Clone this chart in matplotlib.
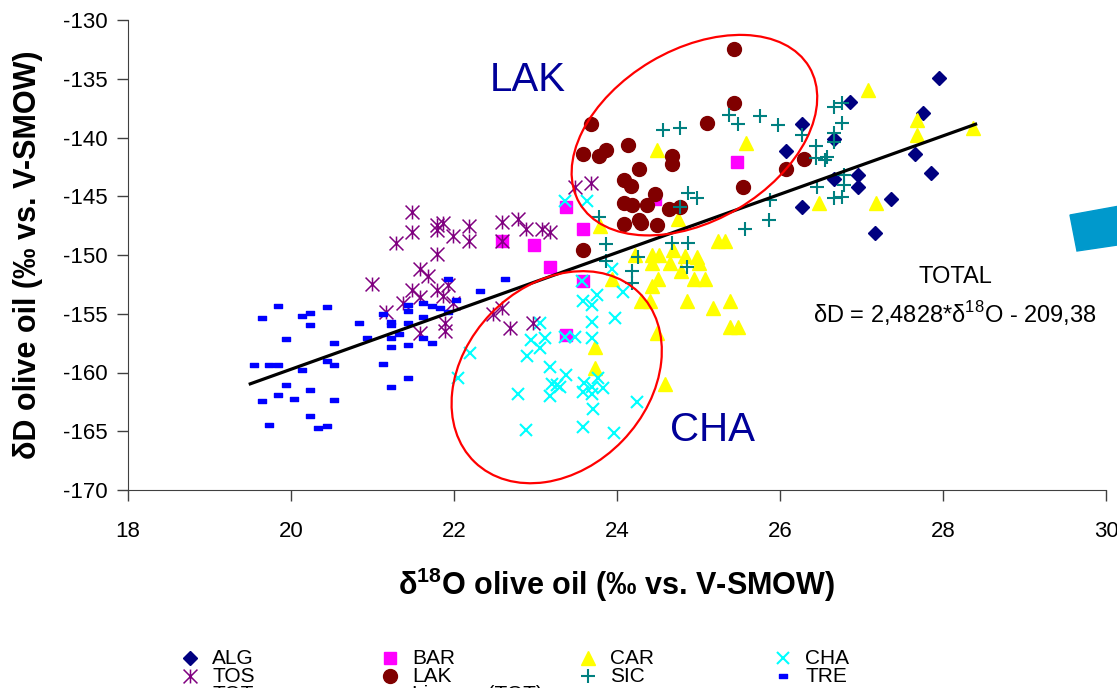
import matplotlib
matplotlib.use("Agg")
import matplotlib.pyplot as plt
from matplotlib.lines import Line2D
from matplotlib.patches import Ellipse, Polygon
from matplotlib.path import Path
from matplotlib.transforms import IdentityTransform, ScaledTranslation
import numpy as np

plt.rcParams.update({"font.family": ["Liberation Sans", "DejaVu Sans"], "mathtext.fontset": "custom",
                     "mathtext.rm": "Liberation Sans", "mathtext.bf": "Liberation Sans:bold",
                     "axes.unicode_minus": False})

# ---- data: d18O (x) vs dD (y) of olive oils by region ----
alg_x = [27.95, 26.86, 27.76, 26.27, 26.66, 26.07, 27.66, 27.85, 26.96, 26.66, 26.96, 27.36, 26.27, 27.16]
alg_y = [-134.9, -137.0, -137.9, -138.85, -140.15, -141.15, -141.4, -143.0, -143.2, -143.55, -144.25, -145.25,
         -145.9, -148.15]
bar_x = [22.59, 22.98, 23.18, 23.38, 23.58, 23.58, 23.38, 25.47, 24.47]
bar_y = [-148.85, -149.15, -151.05, -145.9, -147.75, -152.25, -156.85, -142.1, -145.25]
car_x = [27.08, 27.68, 27.68, 28.37, 26.48, 27.18, 25.58, 24.49, 24.75, 23.79, 25.24, 25.33, 24.22, 24.43, 24.51,
         24.69, 24.83, 24.43, 24.65, 25.0, 24.79, 24.94, 25.08, 24.5, 24.43, 24.3, 24.4, 24.86, 25.39, 25.18, 25.39,
         25.49, 24.49, 23.73, 23.73, 24.59, 23.94, 24.98]
car_y = [-135.95, -138.5, -139.8, -139.2, -145.6, -145.6, -140.45, -141.1, -146.9, -147.5, -148.8, -148.8, -150.0,
         -150.0, -150.0, -149.6, -150.1, -150.7, -150.7, -150.65, -151.4, -152.0, -152.0, -152.0, -152.65, -153.9,
         -153.9, -153.9, -153.9, -154.55, -156.1, -156.1, -156.6, -157.85, -159.65, -161.0, -152.0, -150.2]
cha_x = [23.57, 23.75, 24.07, 23.58, 23.69, 23.98, 23.69, 23.06, 22.95, 23.12, 23.36, 23.48, 23.69, 23.06, 22.89,
         22.2, 23.18, 23.38, 22.05, 23.2, 23.26, 23.3, 23.59, 23.77, 23.69, 23.83, 22.79, 23.18, 23.58, 23.69, 24.24,
         23.7, 22.88, 23.58, 23.96, 23.36, 23.63, 23.94]
cha_y = [-152.25, -153.4, -153.15, -153.9, -154.25, -155.4, -155.7, -155.75, -157.25, -157.1, -156.95, -156.95,
         -157.1, -157.95, -158.6, -158.3, -159.55, -160.2, -160.5, -161.0, -161.05, -161.2, -160.9, -160.5, -161.2,
         -161.35, -161.85, -162.0, -161.7, -161.85, -162.55, -163.1, -164.9, -164.6, -165.15, -145.4, -145.4, -151.2]
tos_x = [21.49, 21.49, 21.29, 21.79, 21.87, 21.79, 21.99, 22.19, 22.19, 21.79, 22.59, 22.79, 22.88, 23.08, 23.18,
         22.59, 21.58, 21.68, 20.99, 21.48, 21.58, 21.79, 21.93, 21.87, 21.38, 21.99, 21.17, 21.58, 21.89, 21.89,
         22.48, 22.59, 22.69, 22.97, 23.48, 23.68]
tos_y = [-146.3, -148.0, -149.0, -147.45, -147.3, -147.85, -148.4, -147.55, -148.85, -149.9, -147.15, -146.95,
         -147.75, -147.75, -148.0, -148.85, -151.15, -151.8, -152.45, -153.0, -153.55, -153.0, -152.55, -153.45,
         -154.1, -154.05, -154.85, -156.65, -155.75, -156.45, -155.0, -154.55, -156.25, -155.8, -144.25, -143.85]
lak_x = [25.43, 25.44, 23.68, 25.1, 23.58, 23.78, 23.87, 24.14, 24.27, 24.67, 24.67, 24.08, 24.17, 24.47, 25.55,
         26.07, 26.3, 24.08, 24.18, 24.37, 24.64, 24.77, 24.08, 24.27, 24.29, 24.49, 23.58]
lak_y = [-132.5, -137.1, -138.85, -138.75, -141.4, -141.55, -141.1, -140.65, -142.7, -141.55, -142.25, -143.6,
         -144.15, -144.8, -144.2, -142.7, -141.85, -145.6, -145.75, -145.75, -146.05, -145.9, -147.35, -147.0,
         -147.3, -147.45, -149.6]
sic_x = [25.37, 25.48, 25.76, 25.97, 24.57, 24.77, 26.27, 26.44, 26.44, 24.87, 24.98, 24.77, 25.88, 25.86, 25.57,
         23.78, 23.87, 24.67, 24.87, 24.26, 26.66, 26.76, 26.76, 26.66, 26.66, 26.58, 26.55, 26.78, 26.78, 26.46,
         26.66, 26.76, 23.87, 24.18, 24.18, 24.86]
sic_y = [-138.1, -138.85, -138.15, -138.95, -139.4, -139.15, -139.8, -140.7, -141.75, -144.75, -145.15, -145.9,
         -145.3, -147.0, -147.8, -146.8, -149.1, -149.0, -149.0, -150.15, -137.4, -137.1, -138.8, -139.65, -140.35,
         -141.65, -141.9, -143.2, -144.05, -144.25, -145.15, -145.05, -150.55, -151.4, -152.4, -151.0]
tre_x = [19.54, 19.64, 19.73, 19.84, 19.84, 19.64, 19.73, 19.84, 19.94, 19.94, 20.04, 20.13, 20.14, 20.23, 20.23,
         20.23, 20.23, 20.33, 20.44, 20.44, 20.44, 20.53, 20.53, 20.53, 20.83, 20.93, 21.13, 21.13, 21.23, 21.23,
         21.23, 21.23, 21.23, 21.33, 21.43, 21.43, 21.43, 21.43, 21.43, 21.62, 21.62, 21.62, 21.73, 21.73, 21.83,
         21.93, 21.93, 22.02, 22.32, 22.63]
tre_y = [-159.35, -155.35, -159.35, -159.35, -154.35, -162.45, -164.45, -161.9, -157.15, -161.05, -162.25, -155.2,
         -159.75, -154.9, -155.95, -161.45, -163.7, -164.75, -154.45, -159.0, -164.55, -157.5, -159.35, -162.35,
         -155.8, -157.05, -155.0, -159.25, -155.7, -155.95, -157.05, -157.85, -161.25, -156.7, -154.25, -154.75,
         -155.8, -157.65, -160.45, -154.05, -155.25, -157.05, -154.35, -157.5, -154.55, -152.05, -154.85, -153.85,
         -153.05, -152.05]
slope, intercept = 2.4828, -209.38          # TOTAL linear fit
fit_x = np.array([19.5, 28.4])
legend_names = ["ALG", "BAR", "CAR", "CHA", "TOS", "LAK", "SIC", "TRE", "TOT", "Lineare (TOT)"]

# ---- markers (Excel-ish) ----
star = Path([(0, -1), (0, 1), (-1, -1), (1, 1), (-1, 1), (1, -1)], [Path.MOVETO, Path.LINETO] * 3)
dash = Path([(-1, -.45), (1, -.45), (1, .45), (-1, .45), (-1, -.45)],
            [Path.MOVETO, Path.LINETO, Path.LINETO, Path.LINETO, Path.CLOSEPOLY])
series = [
    (alg_x, alg_y, dict(marker="D", ms=7, color="#000080")),
    (bar_x, bar_y, dict(marker="s", ms=9, color="#ff00ff")),
    (car_x, car_y, dict(marker="^", ms=10, color="#ffff00")),
    (cha_x, cha_y, dict(marker="x", ms=9, mew=1.5, color="#00ffff")),
    (tos_x, tos_y, dict(marker=star, ms=10, mew=1.1, color="#800080")),
    (lak_x, lak_y, dict(marker="o", ms=10, color="#800000")),
    (sic_x, sic_y, dict(marker="+", ms=10, mew=1.5, color="#008080")),
    (tre_x, tre_y, dict(marker=dash, ms=6, color="#0000ff")),
]

W, H = 1117, 688
fig = plt.figure(figsize=(W / 100, H / 100), dpi=100, facecolor="white")
ax = fig.add_axes([128 / W, 198 / H, 978 / W, 470 / H])
ax.set_xlim(18, 30); ax.set_ylim(-170, -130)
ax.set_xticks(range(18, 31, 2)); ax.set_yticks(range(-170, -129, 5))
for s in ("top", "right"): ax.spines[s].set_visible(False)
for s in ("left", "bottom"): ax.spines[s].set_color("#404040")
ax.tick_params(length=8, width=1, color="#404040", labelsize=16)
ax.tick_params(axis="x", pad=14); ax.tick_params(axis="y", pad=7)

for x, y, kw in series:
    ax.plot(x, y, ls="none", zorder=3, **kw)
ax.plot(fit_x, slope * fit_x + intercept, color="black", lw=2.3, zorder=4)

def ring(cx, cy, w, h, ang):   # ellipse sized in pixels, centred on a data point
    ax.add_artist(Ellipse((0, 0), w, h, angle=ang, fill=False, ec="red", lw=1.6, zorder=5,
                          transform=IdentityTransform() + ScaledTranslation(cx, cy, ax.transData)))
ring(24.95, -139.8, 267, 171, 30.7)
ring(23.26, -160.4, 236, 183, 46)

ax.text(22.9, -135.1, "LAK", fontsize=29, color="#000099", ha="center", va="center")
ax.text(25.17, -164.9, "CHA", fontsize=29, color="#000099", ha="center", va="center")
ax.text(28.15, -151.9, "TOTAL", fontsize=17, ha="center", va="center")
ax.text(28.15, -154.95, r"δD = 2,4828*δ$^{18}$O - 209,38", fontsize=17, ha="center", va="center")

ax.set_xlabel(r"δ$^{\mathbf{18}}$O olive oil (‰ vs. V-SMOW)", fontsize=22, fontweight="bold", va="center")
ax.set_ylabel("δD olive oil (‰ vs. V-SMOW)", fontsize=22, fontweight="bold", va="center")
ax.xaxis.set_label_coords(0.5, (490 - 585) / 470)
ax.yaxis.set_label_coords((28 - 128) / 978, 0.5)

# ---- legend below the plot (4 fixed-width columns, 3rd row cut by the figure edge) ----
cols, rows = [190, 390, 588, 783], [658, 676, 694]
handles = [kw for _, _, kw in series] + [None, "line"]
for i, (name, kw) in enumerate(zip(legend_names, handles)):
    r, c = divmod(i, 4); x, y = cols[c] / W, 1 - rows[r] / H
    if kw == "line":
        fig.add_artist(Line2D([x - 12 / W, x + 12 / W], [y, y], color="black", lw=2.3, transform=fig.transFigure))
    elif kw:
        fig.add_artist(Line2D([x], [y], ls="none", transform=fig.transFigure, **kw))
    fig.text(x + 22 / W, y, name, fontsize=15, va="center")

# clipped blue shape at the right edge
fig.add_artist(Polygon([(1070 / W, 1 - 215 / H), (1125 / W, 1 - 205 / H), (1131 / W, 1 - 243 / H),
                        (1077 / W, 1 - 251 / H)], closed=True, color="#0099cc", transform=fig.transFigure))

fig.savefig("out.png", dpi=100, facecolor="white")
